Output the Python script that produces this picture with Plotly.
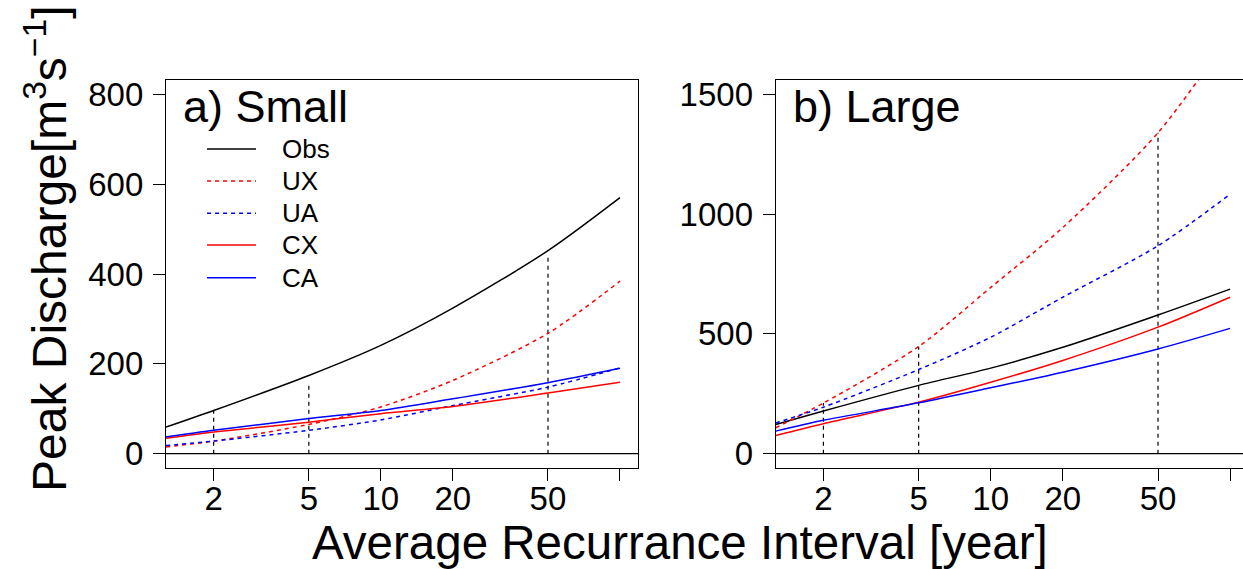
import plotly.graph_objects as go

# ---- data ----
ri = [1.264, 2, 5, 10, 20, 50, 100]

small_obs = [59, 96, 174, 241, 324, 452, 570]
small_ux = [15, 28, 65, 104, 163, 268, 384]
small_ua = [18, 28, 52, 75, 107, 148, 191]
small_cx = [34, 48, 70, 89, 105, 135, 159]
small_ca = [37, 52, 78, 96, 122, 158, 190]

large_obs = [122, 178, 285, 357, 444, 579, 687]
large_ux = [108, 211, 447, 694, 944, 1340, 1750]
large_ua = [128, 194, 351, 486, 653, 868, 1083]
large_cx = [76, 125, 215, 298, 389, 528, 653]
large_ca = [94, 139, 212, 275, 340, 437, 523]

mark_ri = [2, 5, 50]
small_mark_top = [96, 160, 438]
large_mark_top = [211, 447, 1340]

series_names = ["Obs", "UX", "UA", "CX", "CA"]
series_colors = ["black", "#FF0000", "#0000FF", "#FF0000", "#0000FF"]
series_dash = ["solid", "4px,4px", "4px,4px", "solid", "solid"]

xtick_vals = [2, 5, 10, 20, 50, 100]
xtick_text = ["2", "5", "10", "20", "50", ""]
small_yticks = [0, 200, 400, 600, 800]
large_yticks = [0, 500, 1000, 1500]

# ---- layout geometry ----
W, H = 1243, 569
L, R, T, B = 166, 0, 80, 101
PW = W - L - R
PH = H - T - B

def px(xp):
    return (xp - L) / PW

def py(yp):
    return (H - B - yp) / PH

fig = go.Figure()

small = [small_obs, small_ux, small_ua, small_cx, small_ca]
large = [large_obs, large_ux, large_ua, large_cx, large_ca]

for panel, (data, tops, xa, ya) in enumerate([(small, small_mark_top, "x", "y"),
                                               (large, large_mark_top, "x2", "y2")]):
    for xv, tv in zip(mark_ri, tops):
        fig.add_trace(go.Scatter(x=[xv, xv], y=[0, tv], mode="lines",
                                 line=dict(color="black", width=1.2, dash="4px,4px"),
                                 xaxis=xa, yaxis=ya, showlegend=False, hoverinfo="skip"))
    for name, vals, col, dsh in zip(series_names, data, series_colors, series_dash):
        fig.add_trace(go.Scatter(x=ri, y=vals, mode="lines", name=name,
                                 line=dict(color=col, width=1.5, dash=dsh, shape="spline", smoothing=0.8),
                                 xaxis=xa, yaxis=ya, showlegend=False))

# zero lines
for xr, yr in [("x domain", "y"), ("x2 domain", "y2")]:
    fig.add_shape(type="line", xref=xr, yref=yr, x0=0, x1=1, y0=0, y1=0,
                  line=dict(color="black", width=1.2))

tickfont = dict(family="Liberation Sans, Arial, sans-serif", size=33, color="black")
axis_common = dict(showgrid=False, zeroline=False, showline=True, mirror=True,
                   linecolor="black", linewidth=1.2, ticks="outside", ticklen=12,
                   tickwidth=1.2, tickcolor="black", tickfont=tickfont)

right_start = 775.7
fig.update_layout(
    width=W, height=H,
    margin=dict(l=L, r=R, t=T, b=B),
    paper_bgcolor="white", plot_bgcolor="white",
    showlegend=False,
    xaxis=dict(type="log", domain=[0, (638 - L) / PW], range=[0.1017, 2.0754],
               tickvals=xtick_vals, ticktext=xtick_text, anchor="y",
               ticklabelstandoff=-11, **axis_common),
    yaxis=dict(range=[-32, 832], tickvals=small_yticks, anchor="x",
               ticklabelstandoff=3, **axis_common),
    xaxis2=dict(type="log", domain=[(right_start - L) / PW, 1], range=[0.1017, 2.054],
                tickvals=xtick_vals, ticktext=xtick_text, anchor="y2",
                ticklabelstandoff=-11, **axis_common),
    yaxis2=dict(range=[-60, 1560], tickvals=large_yticks, anchor="x2",
                ticklabelstandoff=3, **axis_common),
)

font_big = dict(family="Liberation Sans, Arial, sans-serif", size=47.5, color="black")
font_ytitle = dict(family="Liberation Sans, Arial, sans-serif", size=48, color="black")
font_lab = dict(family="Liberation Sans, Arial, sans-serif", size=45, color="black")
font_leg = dict(family="Liberation Sans, Arial, sans-serif", size=26, color="black")

# panel labels
fig.add_annotation(xref="paper", yref="paper", x=px(181), y=py(106), text="a) Small",
                   showarrow=False, xanchor="left", yanchor="middle", font=font_lab)
fig.add_annotation(xref="paper", yref="paper", x=px(791), y=py(106), text="b) Large",
                   showarrow=False, xanchor="left", yanchor="middle", font=font_lab)

# axis titles
fig.add_annotation(xref="paper", yref="paper", x=px(680), y=py(542),
                   text="Average Recurrance Interval [year]", showarrow=False,
                   xanchor="center", yanchor="middle", font=font_big)
fig.add_annotation(xref="paper", yref="paper", x=px(46), y=py(249),
                   text="Peak Discharge[m<sup>3</sup>s<sup>\u22121</sup>]", showarrow=False,
                   xanchor="center", yanchor="middle", textangle=-90, font=font_ytitle)

# legend
leg_rows = [149, 181, 213.3, 245, 277.7]
for name, col, dsh, yrow in zip(series_names, series_colors, series_dash, leg_rows):
    fig.add_shape(type="line", xref="paper", yref="paper", x0=px(207), x1=px(256),
                  y0=py(yrow), y1=py(yrow), line=dict(color=col, width=1.5, dash=dsh))
    fig.add_annotation(xref="paper", yref="paper", x=px(280), y=py(yrow), text=name,
                       showarrow=False, xanchor="left", yanchor="middle", font=font_leg)

fig.write_html("out.html")
